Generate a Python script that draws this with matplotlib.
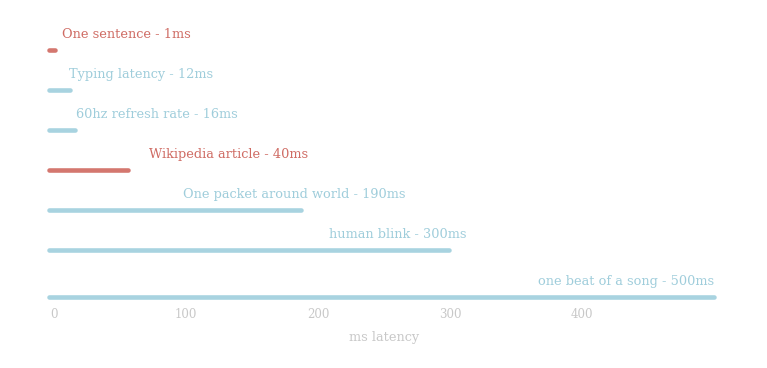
import matplotlib.pyplot as plt

# data
labels = ['One sentence - 1ms', 'Typing latency - 12ms', '60hz refresh rate - 16ms',
          'Wikipedia article - 40ms', 'One packet around world - 190ms',
          'human blink - 300ms', 'one beat of a song - 500ms']
bar_end = [1, 12, 16, 56, 187, 299, 500]
bar_start = -4
label_x = [6, 11, 17, 72, 98, 208, 500]
is_red = [True, False, False, True, False, False, False]
rows = [0, 1, 2, 3, 4, 5, 6.175]
ticks = [0, 100, 200, 300, 400]

RED_BAR, RED_TXT = '#d4776f', '#cf6b63'
BLUE_BAR, BLUE_TXT = '#a8d3e0', '#9fcddb'
GREY = '#c8c8c8'

plt.rcParams['font.family'] = ['DejaVu Serif']

fig = plt.figure(figsize=(7.67, 3.68), dpi=100)
ax = fig.add_axes([0.0532, 0.174, 0.895, 0.788])
ax.set_xlim(-10, 510)
ax.set_ylim(6.35, -0.9)

for i, (lab, end, lx, red, y) in enumerate(zip(labels, bar_end, label_x, is_red, rows)):
    bc = RED_BAR if red else BLUE_BAR
    tc = RED_TXT if red else BLUE_TXT
    ax.hlines(y, bar_start, end, colors=bc, linewidth=3.3, capstyle='round')
    ha = 'right' if i == len(labels) - 1 else 'left'
    ax.text(lx, y - 0.38, lab, color=tc, fontsize=9.3, ha=ha, va='center')

for s in ax.spines.values():
    s.set_visible(False)
ax.set_yticks([])
ax.set_xticks(ticks)
ax.tick_params(axis='x', length=0, pad=3, labelsize=8.5, labelcolor=GREY)
ax.set_xlabel('ms latency', color=GREY, fontsize=9.3, labelpad=7)

fig.savefig('out.png', dpi=100)
